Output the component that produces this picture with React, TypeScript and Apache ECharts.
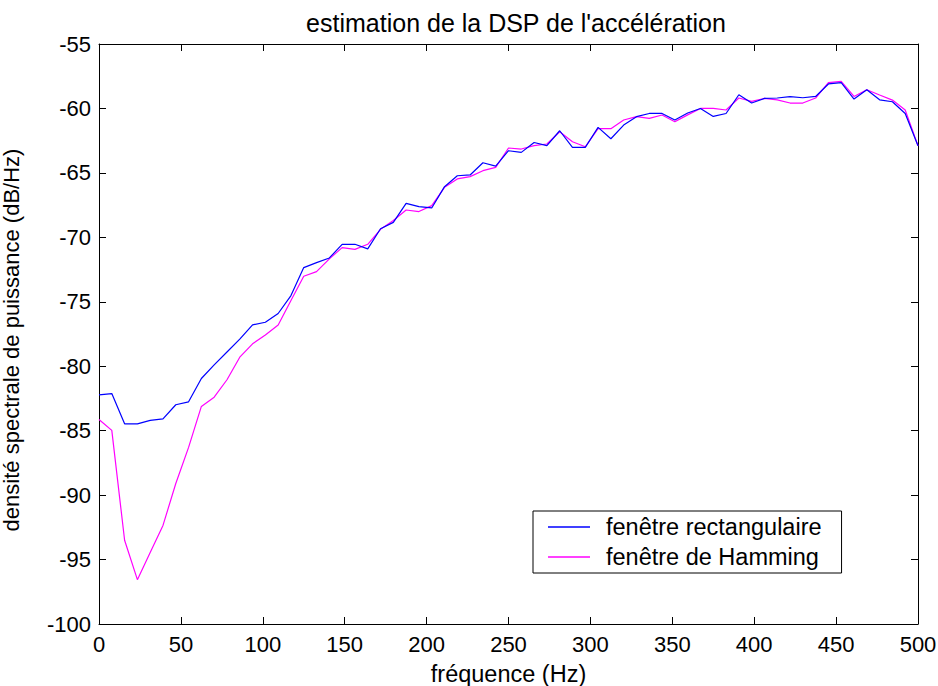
import React, { useEffect, useRef } from "react";
import * as echarts from "echarts";

const frequencies = [
  0, 7.81, 15.63, 23.44, 31.25, 39.06, 46.88, 54.69, 62.5, 70.31, 78.13, 85.94, 93.75,
  101.56, 109.38, 117.19, 125, 132.81, 140.63, 148.44, 156.25, 164.06, 171.88, 179.69,
  187.5, 195.31, 203.13, 210.94, 218.75, 226.56, 234.38, 242.19, 250, 257.81, 265.63,
  273.44, 281.25, 289.06, 296.88, 304.69, 312.5, 320.31, 328.13, 335.94, 343.75, 351.56,
  359.38, 367.19, 375, 382.81, 390.63, 398.44, 406.25, 414.06, 421.88, 429.69, 437.5,
  445.31, 453.13, 460.94, 468.75, 476.56, 484.38, 492.19, 500,
];

const rectangulaire = [
  -82.22, -82.12, -84.47, -84.47, -84.2, -84.08, -82.99, -82.76, -80.95, -79.9, -78.9,
  -77.9, -76.79, -76.59, -75.91, -74.52, -72.35, -71.96, -71.6, -70.54, -70.54, -70.9,
  -69.33, -68.84, -67.36, -67.62, -67.72, -66.07, -65.22, -65.16, -64.21, -64.47, -63.28,
  -63.41, -62.64, -62.89, -61.73, -63.02, -63.02, -61.47, -62.35, -61.29, -60.64, -60.39,
  -60.39, -60.9, -60.35, -60.0, -60.62, -60.39, -58.94, -59.58, -59.22, -59.19, -59.09,
  -59.17, -59.07, -58.1, -58.0, -59.27, -58.55, -59.33, -59.48, -60.39, -62.89,
];

const hamming = [
  -84.13, -84.98, -93.5, -96.56, -94.45, -92.35, -89.1, -86.3, -83.12, -82.4, -81.05,
  -79.3, -78.26, -77.57, -76.8, -74.9, -73.02, -72.66, -71.67, -70.8, -70.93, -70.54,
  -69.38, -68.7, -67.88, -68.0, -67.54, -66.12, -65.47, -65.29, -64.83, -64.57, -63.07,
  -63.15, -62.89, -62.76, -61.81, -62.58, -62.97, -61.57, -61.57, -60.9, -60.64, -60.77,
  -60.51, -61.03, -60.5, -60.0, -60.0, -60.12, -59.19, -59.45, -59.22, -59.33, -59.58,
  -59.58, -59.19, -58.0, -57.9, -59.07, -58.55, -58.96, -59.35, -60.12, -62.89,
];

const seriesNames = ["fenêtre rectangulaire", "fenêtre de Hamming"];
const titleText = "estimation de la DSP de l'accélération";
const xLabel = "fréquence (Hz)";
const yLabel = "densité spectrale de puissance (dB/Hz)";

const FONT = "'Liberation Sans', Arial, Helvetica, sans-serif";

export default function App() {
  const ref = useRef<HTMLDivElement>(null);

  useEffect(() => {
    document.body.style.margin = "0";
    if (!ref.current) return;
    const chart = echarts.init(ref.current, undefined, { renderer: "svg" });

    const axisCommon = {
      axisLine: { show: true, onZero: false, lineStyle: { color: "#000", width: 1 } },
      axisTick: { show: true, inside: true, length: 7, lineStyle: { color: "#000", width: 1 } },
      splitLine: { show: false },
    };

    chart.setOption({
      animation: false,
      backgroundColor: "#fff",
      title: {
        text: titleText,
        left: 511,
        top: 5,
        textAlign: "center",
        textStyle: { fontFamily: FONT, fontSize: 25, fontWeight: "normal", color: "#000" },
      },
      grid: { left: 99, right: 20, top: 44, bottom: 62, outerBoundsMode: "none" },
      legend: {
        orient: "vertical",
        left: 533,
        top: 511,
        icon: "rect",
        itemWidth: 42,
        itemHeight: 1.3,
        itemGap: 6,
        padding: [4, 20, 4, 15],
        borderColor: "#000",
        borderWidth: 1,
        borderRadius: 0,
        backgroundColor: "#fff",
        textStyle: { fontFamily: FONT, fontSize: 23.5, color: "#000", padding: [0, 0, 0, 11] },
        data: seriesNames,
      },
      xAxis: [
        {
          type: "value",
          min: 0,
          max: 500,
          interval: 50,
          position: "bottom",
          ...axisCommon,
          axisLabel: { show: true, margin: 9, color: "#000", fontFamily: FONT, fontSize: 22 },
          name: xLabel,
          nameLocation: "middle",
          nameGap: 38,
          nameTextStyle: { fontFamily: FONT, fontSize: 23.5, color: "#000" },
        },
        {
          type: "value",
          min: 0,
          max: 500,
          interval: 50,
          position: "top",
          ...axisCommon,
          axisLabel: { show: false },
        },
      ],
      yAxis: [
        {
          type: "value",
          min: -100,
          max: -55,
          interval: 5,
          position: "left",
          ...axisCommon,
          axisLabel: { show: true, margin: 8, color: "#000", fontFamily: FONT, fontSize: 22 },
          name: yLabel,
          nameLocation: "middle",
          nameGap: 77,
          nameTextStyle: { fontFamily: FONT, fontSize: 22, color: "#000", padding: [0, 12, 0, 0] },
        },
        {
          type: "value",
          min: -100,
          max: -55,
          interval: 5,
          position: "right",
          ...axisCommon,
          axisLabel: { show: false },
        },
      ],
      series: [
        {
          name: seriesNames[0],
          type: "line",
          xAxisIndex: 0,
          yAxisIndex: 0,
          data: frequencies.map((f, i) => [f, rectangulaire[i]]),
          color: "#0000ff",
          lineStyle: { color: "#0000ff", width: 1.2 },
          showSymbol: false,
          symbol: "none",
          z: 3,
        },
        {
          name: seriesNames[1],
          type: "line",
          xAxisIndex: 0,
          yAxisIndex: 0,
          data: frequencies.map((f, i) => [f, hamming[i]]),
          color: "#ff00ff",
          lineStyle: { color: "#ff00ff", width: 1.2 },
          showSymbol: false,
          symbol: "none",
          z: 2,
        },
      ],
    });

    return () => {
      chart.dispose();
    };
  }, []);

  return <div ref={ref} style={{ width: 938, height: 686 }} />;
}
